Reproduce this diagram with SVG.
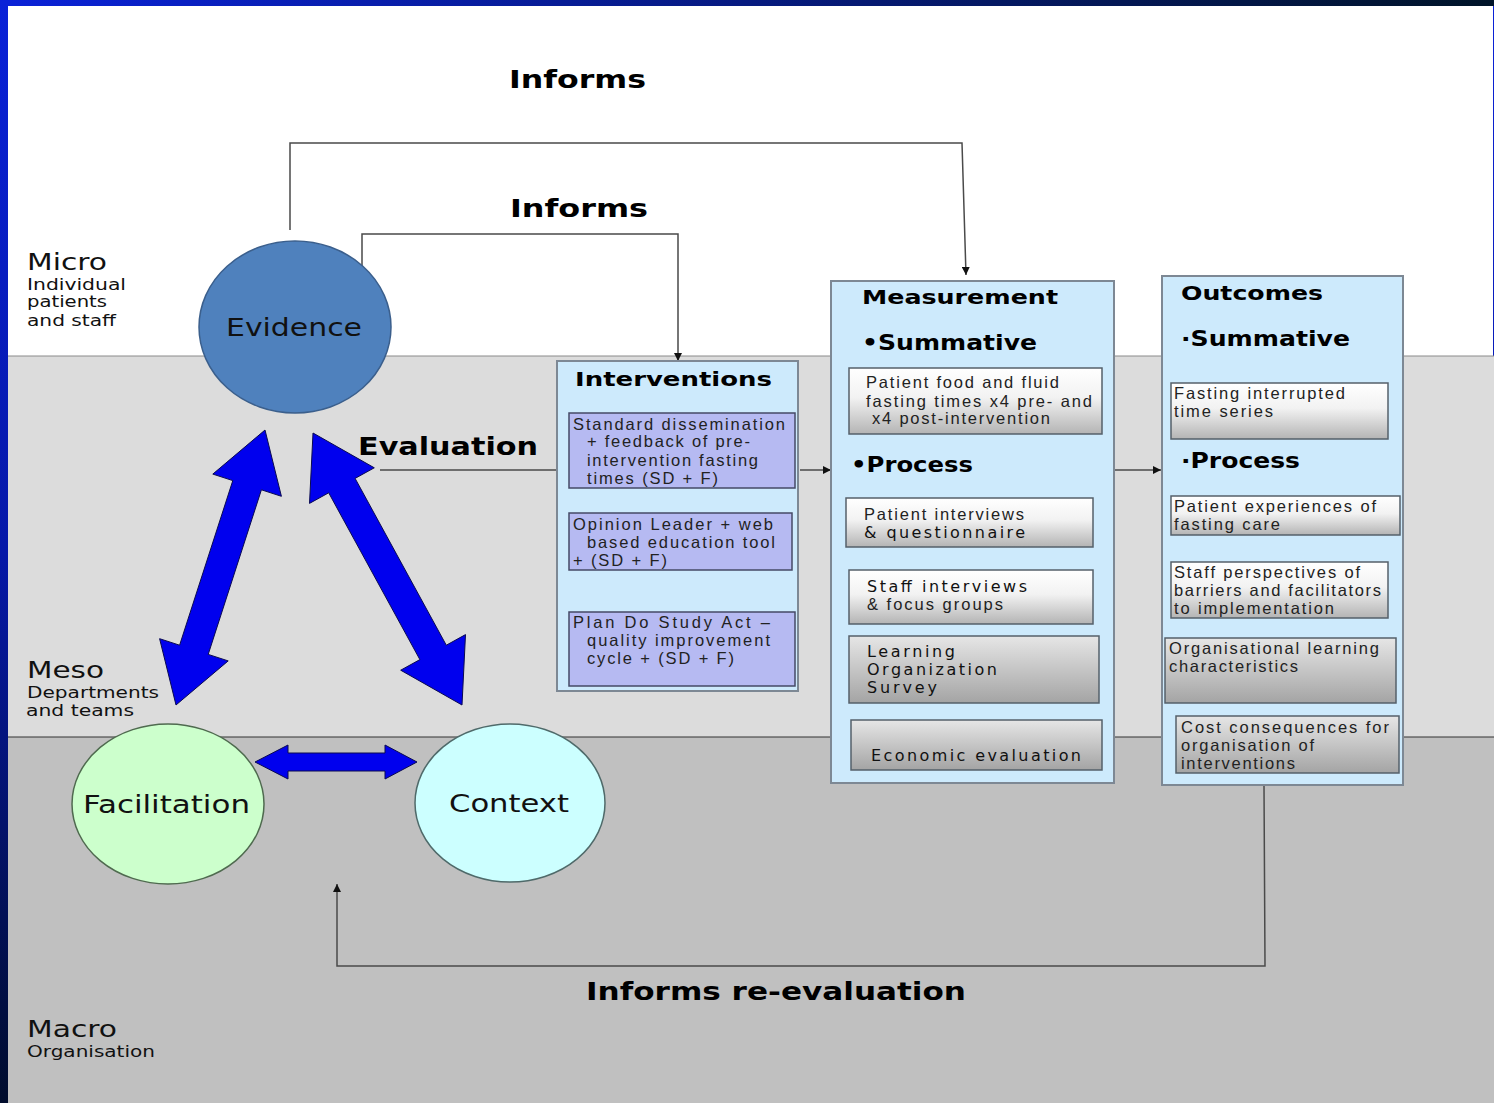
<svg xmlns="http://www.w3.org/2000/svg" width="1494" height="1103" viewBox="0 0 1494 1103">
<defs>
<linearGradient id="frameV" x1="0" y1="0" x2="0" y2="1">
<stop offset="0" stop-color="#0a22d8"/><stop offset="0.5" stop-color="#0618a8"/><stop offset="1" stop-color="#000c2c"/>
</linearGradient>
<linearGradient id="frameH" x1="0" y1="0" x2="1" y2="0">
<stop offset="0" stop-color="#0a22d8"/><stop offset="0.5" stop-color="#061a80"/><stop offset="1" stop-color="#001428"/>
</linearGradient>
<linearGradient id="gWhite" x1="0" y1="0" x2="0" y2="1">
<stop offset="0" stop-color="#ffffff"/><stop offset="0.45" stop-color="#f2f2f2"/><stop offset="1" stop-color="#b4b4b4"/>
</linearGradient>
<linearGradient id="gGray" x1="0" y1="0" x2="0" y2="1">
<stop offset="0" stop-color="#e6e6e6"/><stop offset="1" stop-color="#a4a4a4"/>
</linearGradient>
<marker id="ah" viewBox="0 0 8 8" refX="8" refY="4" markerWidth="8" markerHeight="8" markerUnits="userSpaceOnUse" orient="auto">
<path d="M0,0 L8,4 L0,8 z" fill="#111"/>
</marker>
<style>
.conn{fill:none;stroke:#4a4a4a;stroke-width:1.5}
.big{font-family:"DejaVu Sans",Verdana,sans-serif;font-weight:bold;font-size:24px;fill:#000}
.title{font-family:"DejaVu Sans",Verdana,sans-serif;font-weight:bold;font-size:19px;fill:#000}
.sub{font-family:"DejaVu Sans",Verdana,sans-serif;font-weight:bold;font-size:21px;fill:#000}
.lvl{font-family:"DejaVu Sans",Verdana,sans-serif;font-size:23px;fill:#111}
.lvls{font-family:"DejaVu Sans",Verdana,sans-serif;font-size:16px;fill:#111}
.circ{font-family:"DejaVu Sans",Verdana,sans-serif;font-size:24px;fill:#111}
.ar{font-family:"Liberation Sans",Arial,sans-serif;font-size:16.5px;fill:#222}
.vd{font-family:"DejaVu Sans",Verdana,sans-serif;font-size:16px;fill:#111}
.panel{fill:#cdeafc;stroke:#7d8894;stroke-width:2}
.ibox{fill:#b6baf2;stroke:#454a66;stroke-width:1.5}
.wbox{fill:url(#gWhite);stroke:#55606a;stroke-width:1.5}
.gbox{fill:url(#gGray);stroke:#55606a;stroke-width:1.5}
.blk{fill:#0000ee;stroke:#0a0a50;stroke-width:1}
</style>
</defs>

<!-- background frame and bands -->
<rect x="0" y="0" width="1494" height="1103" fill="url(#frameV)"/>
<rect x="0" y="0" width="1494" height="6" fill="url(#frameH)"/>
<rect x="8" y="6" width="1485" height="350" fill="#ffffff"/>
<rect x="8" y="356" width="1486" height="381" fill="#dcdcdc"/>
<rect x="8" y="737" width="1486" height="366" fill="#c0c0c0"/>
<line x1="8" y1="356" x2="1494" y2="356" stroke="#8a8a8a" stroke-width="1"/>
<line x1="8" y1="737" x2="1494" y2="737" stroke="#333" stroke-width="1.2"/>

<!-- level labels -->
<g id="level-micro">
<text class="lvl" x="27" y="270" textLength="80" lengthAdjust="spacingAndGlyphs">Micro</text>
<text class="lvls" x="27" y="290" textLength="99" lengthAdjust="spacingAndGlyphs">Individual</text>
<text class="lvls" x="27" y="307" textLength="80" lengthAdjust="spacingAndGlyphs">patients</text>
<text class="lvls" x="27" y="326" textLength="89" lengthAdjust="spacingAndGlyphs">and staff</text>
</g>
<g id="level-meso">
<text class="lvl" x="27" y="678" textLength="77" lengthAdjust="spacingAndGlyphs">Meso</text>
<text class="lvls" x="27" y="698" textLength="132" lengthAdjust="spacingAndGlyphs">Departments</text>
<text class="lvls" x="26" y="716" textLength="108" lengthAdjust="spacingAndGlyphs">and teams</text>
</g>
<g id="level-macro">
<text class="lvl" x="27" y="1037" textLength="90" lengthAdjust="spacingAndGlyphs">Macro</text>
<text class="lvls" x="27" y="1057" textLength="128" lengthAdjust="spacingAndGlyphs">Organisation</text>
</g>

<!-- connectors -->
<g id="connectors">
<polyline class="conn" points="290,230 290,143 962,143 966,275" marker-end="url(#ah)"/>
<polyline class="conn" points="362,266 362,234 678,234 678,361" marker-end="url(#ah)"/>
<line class="conn" x1="380" y1="470" x2="557" y2="470" stroke="#222"/>
<line class="conn" x1="800" y1="470" x2="831" y2="470" marker-end="url(#ah)" stroke="#222"/>
<line class="conn" x1="1112" y1="470" x2="1161" y2="470" marker-end="url(#ah)" stroke="#222"/>
<polyline class="conn" points="1264,786 1265,966 337,966 337,884" marker-end="url(#ah)"/>
<polygon id="arrow-evidence-facilitation" class="blk" points="265,430 281.4,496.3 261.4,489.8 208.2,654.4 228.2,660.9 176,705 159.6,638.7 179.6,645.2 232.8,480.6 212.8,474.1"/>
<polygon id="arrow-evidence-context" class="blk" points="313,433 374.3,467.8 355.1,478.4 446.3,645.2 465.5,634.6 462,705 400.7,670.2 419.9,659.6 328.7,492.8 309.5,503.4"/>
<polygon id="arrow-facilitation-context" class="blk" points="255,762 288,745 288,753 385,753 385,745 417,762 385,779 385,771 288,771 288,779"/>
</g>

<!-- connector labels -->
<text class="big" x="509" y="88" textLength="137" lengthAdjust="spacingAndGlyphs">Informs</text>
<text class="big" x="510" y="217" textLength="138" lengthAdjust="spacingAndGlyphs">Informs</text>
<text class="big" x="358" y="455" textLength="180" lengthAdjust="spacingAndGlyphs">Evaluation</text>
<text class="big" x="586" y="1000" textLength="380" lengthAdjust="spacingAndGlyphs">Informs re-evaluation</text>

<!-- circles -->
<g id="evidence">
<ellipse cx="295" cy="327" rx="96" ry="86" fill="#4f81bd" stroke="#3b5f8c" stroke-width="1.5"/>
<text class="circ" x="226" y="336" textLength="136" lengthAdjust="spacingAndGlyphs">Evidence</text>
</g>
<g id="facilitation">
<ellipse cx="168" cy="804" rx="96" ry="80" fill="#ccffcc" stroke="#4f6a4f" stroke-width="1.5"/>
<text class="circ" x="83" y="813" textLength="167" lengthAdjust="spacingAndGlyphs">Facilitation</text>
</g>
<g id="context">
<ellipse cx="510" cy="803" rx="95" ry="79" fill="#ccffff" stroke="#4f6a6a" stroke-width="1.5"/>
<text class="circ" x="449" y="812" textLength="120" lengthAdjust="spacingAndGlyphs">Context</text>
</g>

<!-- Interventions -->
<g id="interventions">
<rect class="panel" x="557" y="361" width="241" height="330"/>
<text class="title" x="575" y="386" textLength="197" lengthAdjust="spacingAndGlyphs">Interventions</text>
<rect class="ibox" x="569" y="413" width="226" height="75"/>
<text class="ar" x="573" y="430" textLength="212" lengthAdjust="spacing">Standard dissemination</text>
<text class="ar" x="587" y="447" textLength="163" lengthAdjust="spacing">+ feedback of pre-</text>
<text class="ar" x="587" y="466" textLength="171" lengthAdjust="spacing">intervention fasting</text>
<text class="ar" x="587" y="484" textLength="131" lengthAdjust="spacing">times (SD + F)</text>
<rect class="ibox" x="569" y="513" width="223" height="57"/>
<text class="ar" x="573" y="530" textLength="200" lengthAdjust="spacing">Opinion Leader + web</text>
<text class="ar" x="587" y="548" textLength="188" lengthAdjust="spacing">based education tool</text>
<text class="ar" x="573" y="566" textLength="94" lengthAdjust="spacing">+ (SD + F)</text>
<rect class="ibox" x="569" y="612" width="226" height="74"/>
<text class="ar" x="573" y="628" textLength="197" lengthAdjust="spacing">Plan Do Study Act –</text>
<text class="ar" x="587" y="646" textLength="183" lengthAdjust="spacing">quality improvement</text>
<text class="ar" x="587" y="664" textLength="147" lengthAdjust="spacing">cycle + (SD + F)</text>
</g>

<!-- Measurement -->
<g id="measurement">
<rect class="panel" x="831" y="281" width="283" height="502"/>
<text class="title" x="862" y="304" textLength="196" lengthAdjust="spacingAndGlyphs">Measurement</text>
<text class="sub" x="862" y="350" textLength="175" lengthAdjust="spacingAndGlyphs">•Summative</text>
<rect class="wbox" x="849" y="368" width="253" height="66"/>
<text class="ar" x="866" y="388" textLength="193" lengthAdjust="spacing">Patient food and fluid</text>
<text class="ar" x="866" y="407" textLength="226" lengthAdjust="spacing">fasting times x4 pre- and</text>
<text class="ar" x="872" y="424" textLength="178" lengthAdjust="spacing">x4 post-intervention</text>
<text class="sub" x="851" y="472" textLength="122" lengthAdjust="spacingAndGlyphs">•Process</text>
<rect class="wbox" x="846" y="498" width="247" height="49"/>
<text class="ar" x="864" y="520" textLength="160" lengthAdjust="spacing">Patient interviews</text>
<text class="vd" x="864" y="538" textLength="161" lengthAdjust="spacing">&amp; questionnaire</text>
<rect class="wbox" x="849" y="570" width="244" height="54"/>
<text class="vd" x="867" y="592" textLength="160" lengthAdjust="spacing">Staff interviews</text>
<text class="ar" x="867" y="610" textLength="136" lengthAdjust="spacing" fill="#444">&amp; focus groups</text>
<rect class="gbox" x="849" y="636" width="250" height="67"/>
<text class="vd" x="867" y="657" textLength="88" lengthAdjust="spacing">Learning</text>
<text class="vd" x="867" y="675" textLength="130" lengthAdjust="spacing">Organization</text>
<text class="vd" x="867" y="693" textLength="70" lengthAdjust="spacing">Survey</text>
<rect class="gbox" x="851" y="720" width="251" height="50"/>
<text class="vd" x="871" y="761" textLength="210" lengthAdjust="spacing">Economic evaluation</text>
</g>

<!-- Outcomes -->
<g id="outcomes">
<rect class="panel" x="1162" y="276" width="241" height="509"/>
<text class="title" x="1181" y="300" textLength="142" lengthAdjust="spacingAndGlyphs">Outcomes</text>
<text class="sub" x="1181" y="346" textLength="169" lengthAdjust="spacingAndGlyphs">·Summative</text>
<rect class="wbox" x="1171" y="383" width="217" height="56"/>
<text class="ar" x="1174" y="399" textLength="171" lengthAdjust="spacing">Fasting interrupted</text>
<text class="ar" x="1174" y="417" textLength="99" lengthAdjust="spacing">time series</text>
<text class="sub" x="1181" y="468" textLength="119" lengthAdjust="spacingAndGlyphs">·Process</text>
<rect class="wbox" x="1171" y="496" width="229" height="39"/>
<text class="ar" x="1174" y="512" textLength="202" lengthAdjust="spacing">Patient experiences of</text>
<text class="ar" x="1174" y="530" textLength="106" lengthAdjust="spacing">fasting care</text>
<rect class="wbox" x="1171" y="562" width="217" height="56"/>
<text class="ar" x="1174" y="578" textLength="186" lengthAdjust="spacing">Staff perspectives of</text>
<text class="ar" x="1174" y="596" textLength="207" lengthAdjust="spacing">barriers and facilitators</text>
<text class="ar" x="1174" y="614" textLength="160" lengthAdjust="spacing">to implementation</text>
<rect class="gbox" x="1165" y="638" width="231" height="65"/>
<text class="ar" x="1169" y="654" textLength="210" lengthAdjust="spacing">Organisational learning</text>
<text class="ar" x="1169" y="672" textLength="129" lengthAdjust="spacing">characteristics</text>
<rect class="gbox" x="1176" y="716" width="223" height="57"/>
<text class="ar" x="1181" y="733" textLength="208" lengthAdjust="spacing">Cost consequences for</text>
<text class="ar" x="1181" y="751" textLength="133" lengthAdjust="spacing">organisation of</text>
<text class="ar" x="1181" y="769" textLength="114" lengthAdjust="spacing">interventions</text>
</g>
</svg>
